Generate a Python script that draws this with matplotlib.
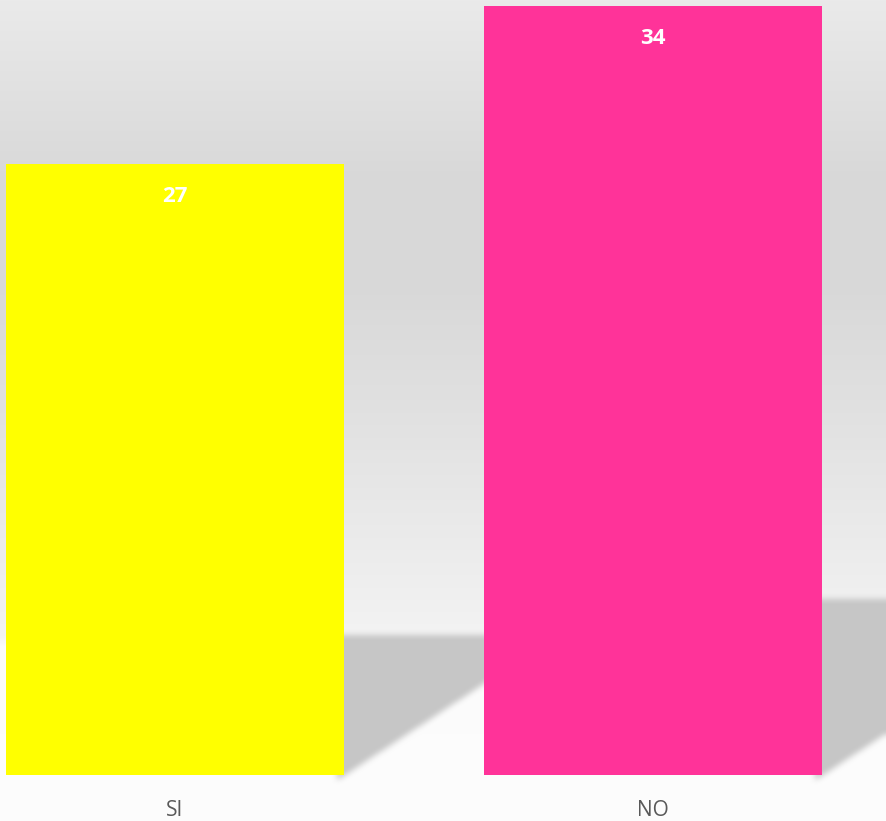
import matplotlib
matplotlib.use("Agg")
import matplotlib.pyplot as plt
import numpy as np

# data
categories = ["SI", "NO"]
values = [27, 34]
colors = ["#FFFF00", "#FF3399"]

W, H = 886, 821
fig = plt.figure(figsize=(W / 100, H / 100), dpi=100)
plt.rcParams['font.family'] = ['Open Sans', 'DejaVu Sans']

# background axes (gradient + soft shadows)
bg = fig.add_axes([0, 0, 1, 1], zorder=0)
bg.axis("off")

base_px = 775
ax = fig.add_axes([0, (H - base_px) / H, 1, base_px / H], zorder=1)
ax.patch.set_alpha(0)
px_per_unit = 769 / 34
ax.set_ylim(0, base_px / px_per_unit)
ax.set_xlim(-175 / 478, (W - 175) / 478)

x = np.arange(len(categories))
bar_w = 338 / 478
bars = ax.bar(x, values, width=bar_w, color=colors, zorder=2)

for b, v in zip(bars, values):
    ax.annotate(str(v), (b.get_x() + b.get_width() / 2, v),
                xytext=(0, -23.5), textcoords="offset points",
                ha="center", va="center", color="white",
                fontsize=16, fontweight="bold")

ax.set_xticks(x, categories)
ax.tick_params(axis="x", length=0, pad=18, labelsize=15, labelcolor="#595959")
ax.set_yticks([])
for s in ax.spines.values():
    s.set_visible(False)

# background gradient
rows = np.arange(H)
stops_y = [0, 170, 280, 400, 500, 600, 636, 646, 821]
stops_v = [234, 217, 216, 224, 232, 240, 243, 251, 253]
grad = np.interp(rows, stops_y, stops_v)
img = np.repeat(grad[:, None], W, axis=1).astype(float)

# shadows cast to the right of each bar
Y, X = np.mgrid[0:H, 0:W].astype(float)
mask = np.zeros((H, W))
for b, v in zip(bars, values):
    xr, y0 = ax.transData.transform((b.get_x() + b.get_width(), 0))
    _, yt = ax.transData.transform((0, v))
    r0 = H - y0
    h_px = 0.23 * (yt - y0)
    m = (X >= xr - 8) & (X <= xr + 1.52 * (r0 - Y)) & (Y >= r0 - h_px) & (Y <= r0 + 4)
    mask = np.maximum(mask, m.astype(float))


def box_blur(a, k):
    p = k // 2
    kern = np.ones(k) / k
    a = np.pad(a, p, mode="edge")
    a = np.apply_along_axis(lambda r: np.convolve(r, kern, mode="same"), 1, a)
    a = np.apply_along_axis(lambda c: np.convolve(c, kern, mode="same"), 0, a)
    return a[p:-p, p:-p]


mask = box_blur(box_blur(mask, 7), 7)
img = img * (1 - mask) + 198 * mask
img = np.clip(img, 0, 255) / 255
bg.imshow(np.dstack([img, img, img]), aspect="auto", extent=(0, W, H, 0))
bg.set_xlim(0, W)
bg.set_ylim(H, 0)

fig.savefig("out.png", dpi=100)
